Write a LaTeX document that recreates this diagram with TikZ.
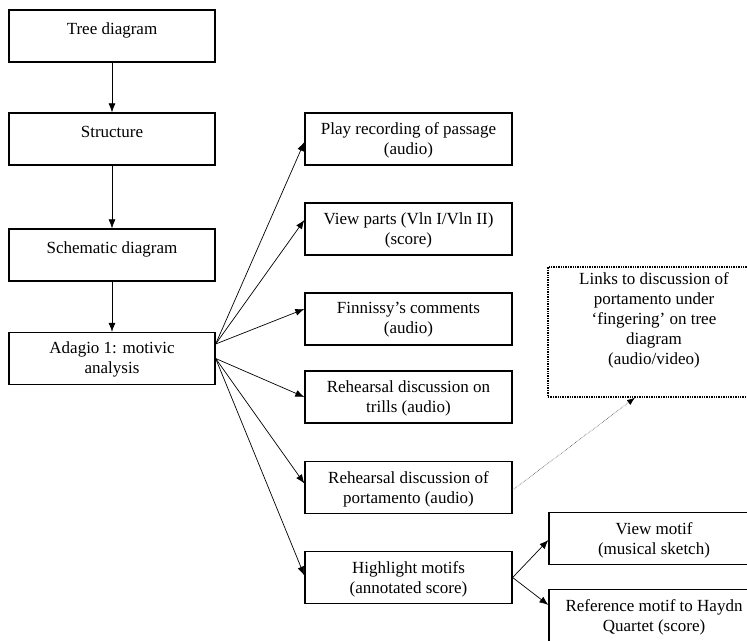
\documentclass[tikz,border=0pt]{standalone}
\usepackage{fontspec}
\setmainfont{Liberation Serif}
\usetikzlibrary{arrows.meta,calc}
\tikzset{
  bx/.style={draw, line width=1.3pt, minimum width=207pt, minimum height=52pt, inner sep=0pt},
  dbx/.style={draw, densely dotted, line width=1.4pt, minimum width=212pt, minimum height=130pt, inner sep=0pt},
  txt/.style={anchor=north, align=center, inner sep=0pt, font=\fontsize{17}{20}\selectfont, execute at begin node=\strut},
  arr/.style={line width=0.7pt, -{Latex[length=9pt,width=7pt]}},
  darr/.style={densely dotted, line width=0.6pt, draw=black!70, -{Latex[length=8pt,width=6pt,color=black]}}
}
\begin{document}
\begin{tikzpicture}[x=1pt,y=-1pt]
\useasboundingbox (0,0) rectangle (747,640);
\clip (0,0) rectangle (747,640);
% left column
\node[bx, minimum width=206pt] (tree) at (112,36) {};
\node[bx, minimum width=206pt] (struct) at (112,139) {};
\node[bx, minimum width=206pt] (schem) at (112,255) {};
\node[bx, minimum width=206pt] (adagio) at (112,358.5) {};
\node[txt] (treet) at ([yshift=-10.5pt]tree.north) {Tree diagram};
\node[txt] (structt) at ([yshift=-10.5pt]struct.north) {Structure};
\node[txt] (schemt) at ([yshift=-10.5pt]schem.north) {Schematic diagram};
\node[txt] (adagiot) at ([yshift=-10pt]adagio.north) {Adagio 1: motivic\\analysis};
% middle column
\node[bx] (play) at (408.5,139) {};
\node[bx] (parts) at (408.5,229) {};
\node[bx] (finn) at (408.5,319) {};
\node[bx] (trills) at (408.5,397) {};
\node[bx] (porta) at (408.5,487.5) {};
\node[bx] (high) at (408.5,577.5) {};
\node[txt] (playt) at ([yshift=-10pt]play.north) {Play recording of passage\\(audio)};
\node[txt] (partst) at ([yshift=-10pt]parts.north) {View parts (Vln I/Vln II)\\(score)};
\node[txt] (finnt) at ([yshift=-10pt]finn.north) {Finnissy’s comments\\(audio)};
\node[txt] (trillst) at ([yshift=-10pt]trills.north) {Rehearsal discussion on\\trills (audio)};
\node[txt] (portat) at ([yshift=-10pt]porta.north) {Rehearsal discussion of\\portamento (audio)};
\node[txt] (hight) at ([yshift=-10pt]high.north) {Highlight motifs\\(annotated score)};
% right column
\node[dbx] (links) at (654,332) {};
\node[txt] (linkst) at ([yshift=-6.5pt]links.north) {Links to discussion of\\portamento under\\‘fingering’ on tree\\diagram\\(audio/video)};
\node[bx, minimum width=210pt] (view) at (654,538.5) {};
\node[bx, minimum width=210pt] (ref) at (654,615.5) {};
\node[txt] (viewt) at ([yshift=-10pt]view.north) {View motif\\(musical sketch)};
\node[txt] (reft) at ([yshift=-10pt]ref.north) {Reference motif to Haydn\\Quartet (score)};
% connectors
\draw[arr] (tree) -- (struct);
\draw[arr] (struct) -- (schem);
\draw[arr] (schem) -- (adagio);
\coordinate (ao1) at ([yshift=14.5pt]adagio.east);
\coordinate (ao2) at (adagio.east);
\draw[arr] (ao1) -- ([yshift=-3pt]play.west);
\draw[arr] (ao1) -- ([yshift=9pt]parts.west);
\draw[arr] (ao1) -- ([yshift=10pt]finn.west);
\draw[arr] (ao2) -- (trills.west);
\draw[arr] (ao2) -- ([yshift=4pt]porta.west);
\draw[arr] (ao2) -- ([yshift=2pt]high.west);
\draw[arr] (high.east) -- ([yshift=-1.5pt]view.west);
\draw[arr] (high.east) -- ([yshift=10.5pt]ref.west);
\draw[darr] ([yshift=-2.5pt]porta.east) -- ([xshift=-19pt]links.south);
\end{tikzpicture}
\end{document}
